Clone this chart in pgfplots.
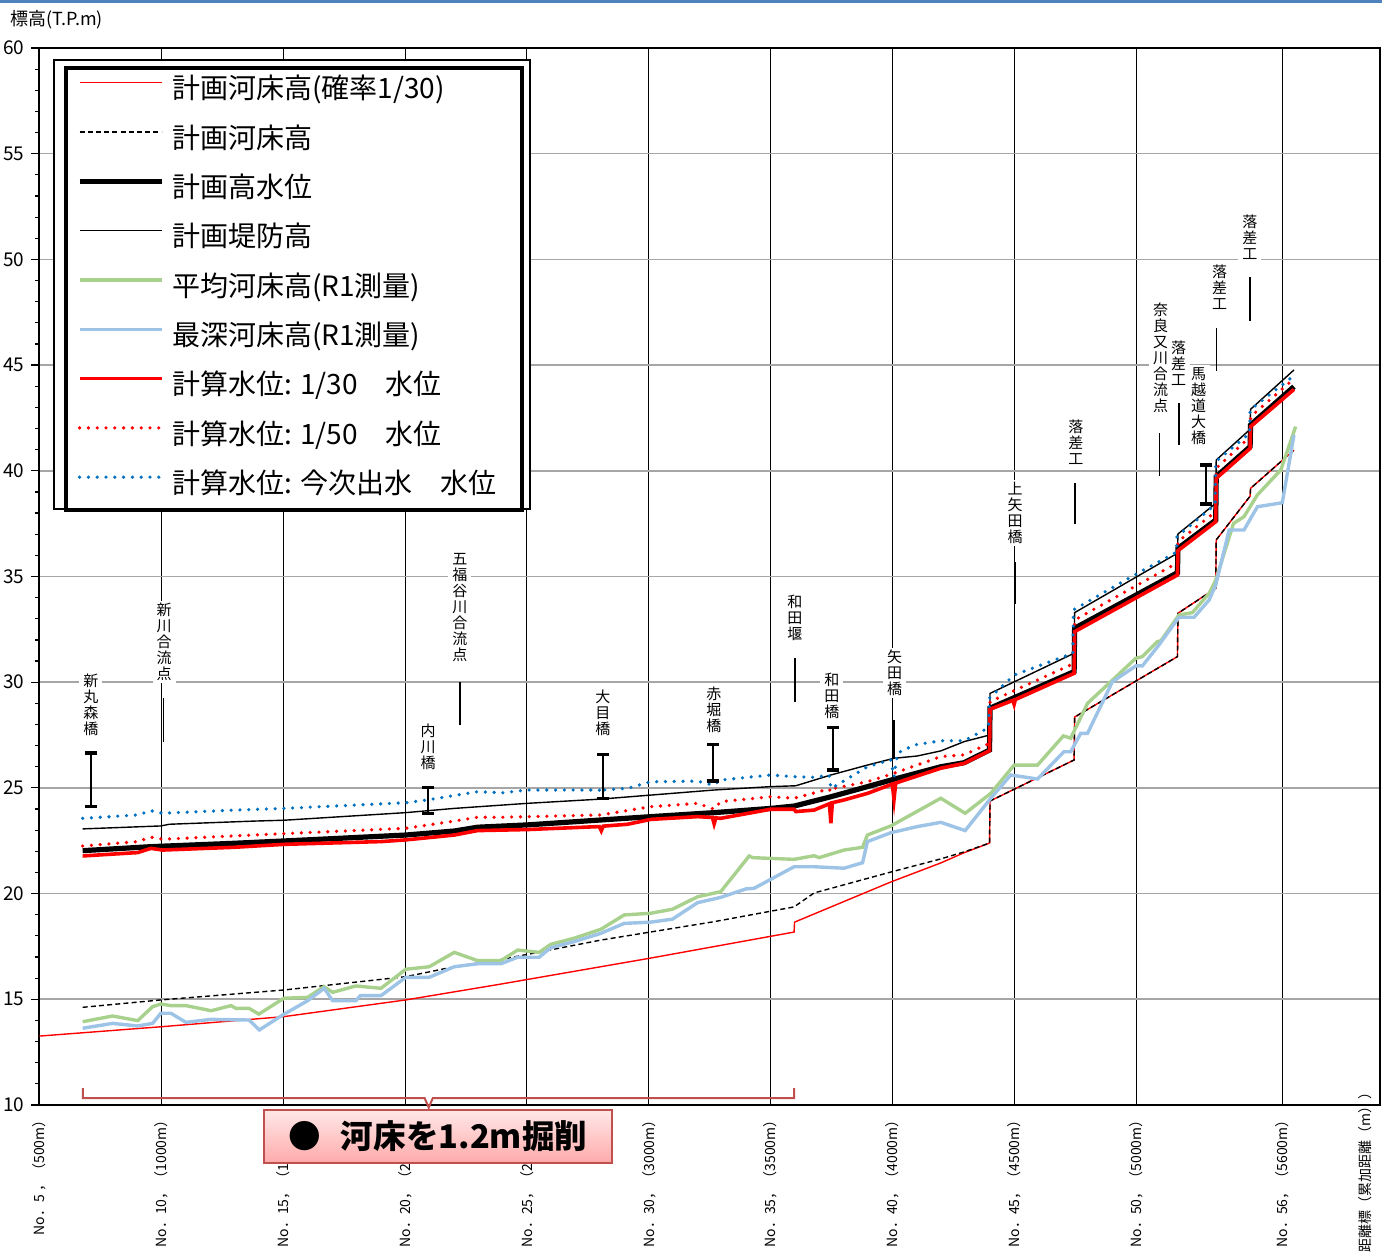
\documentclass[border=0pt]{standalone}
\usepackage{fontspec}
\setmainfont{Noto Sans CJK JP}
\usepackage{pgfplots}
\pgfplotsset{compat=1.18}

\definecolor{bedgreen}{HTML}{A9D18E}
\definecolor{bedblue}{HTML}{9DC3E6}
\definecolor{floodblue}{HTML}{0070C0}
\definecolor{gridgray}{HTML}{A6A6A6}
\definecolor{bracketred}{HTML}{C0504D}
\definecolor{topblue}{HTML}{4F81BD}

\newcommand\vfont{\fontsize{7.5}{8}\selectfont}

\begin{document}
\begin{tikzpicture}
\begin{axis}[
  at={(0pt,0pt)}, anchor=south west,
  scale only axis, width=670.25pt, height=528.5pt,
  xmin=500, xmax=6000, ymin=10, ymax=60,
  clip=false,
  xtick={500,1000,1500,2000,2500,3000,3500,4000,4500,5000,5600},
  xticklabels={{No．5 ，（500m）},{No．10，（1000m）},{No．15，（1500m）},{No．20，（2000m）},{No．25，（2500m）},{No．30，（3000m）},{No．35，（3500m）},{No．40，（4000m）},{No．45，（4500m）},{No．50，（5000m）},{No．56，（5600m）}},
  ytick={10,15,...,60},
  minor y tick num=4,
  ytick pos=left,
  xmajorgrids, ymajorgrids,
  major x grid style={black, line width=0.5pt},
  major y grid style={gridgray, line width=0.8pt},
  axis line style={black, line width=1pt},
  tick align=outside,
  x tick style={draw=none},
  y tick style={black, line width=0.6pt},
  major tick length=4pt, minor tick length=2pt,
  /pgf/number format/assume math mode=true,
  yticklabel style={font=\fontsize{9.5}{9.5}\selectfont},
  xticklabel style={font=\fontsize{7}{7}\selectfont, rotate=90, anchor=east, inner sep=0pt},
  legend cell align=left,
  legend image code/.code={\draw[#1] (0pt,4.6pt) -- (41pt,4.6pt);},
  legend style={
    at={(0.01828,0.98297)}, anchor=north west,
    draw=black, line width=2pt, fill=white,
    inner xsep=5.5pt, inner ysep=5pt,
    /tikz/row sep=10.65pt, /tikz/column sep=4pt,
    font=\fontsize{14}{14}\selectfont,
    nodes={inner sep=0pt, text height=10.5pt, text depth=3.5pt},
  },
]

% outer frame of the legend
\draw[black, line width=0.7pt, fill=white]
  (axis description cs:0.01082,0.98865) rectangle (axis description cs:0.3659,0.5639);

% 計画河床高（確率1/30）
\addplot[red, line width=0.7pt] coordinates {
 (500,13.26) (998,13.70) (1503,14.18) (2003,14.97) (2393,15.72) (3008,16.95)
 (3596,18.18) (3598,18.65) (3993,20.55) (4198,21.45) (4293,21.93) (4398,22.39)
 (4400,24.38) (4745,26.32) (4747,28.35) (5169,31.21) (5171,33.26) (5326,34.44)
 (5328,36.73) (5467,38.80) (5469,39.17) (5647,40.98)};
\addlegendentry{計画河床高(確率1/30)}

% 計画河床高
\addplot[black, line width=0.7pt, dash pattern=on 2.5pt off 1.6pt] coordinates {
 (677,14.62) (998,14.97) (1503,15.44) (2003,16.07) (2202,16.54) (2393,16.88)
 (2803,17.80) (3267,18.67) (3596,19.37) (3678,20.03) (3993,21.02) (4198,21.64)
 (4293,21.97) (4398,22.39)
 (4400,24.38) (4745,26.32) (4747,28.35) (5169,31.21) (5171,33.26) (5326,34.44)
 (5328,36.73) (5467,38.80) (5469,39.17) (5647,40.98)};
\addlegendentry{計画河床高}

% 計画高水位
\addplot[black, line width=2.6pt] coordinates {
 (677,22.03) (957,22.22) (1299,22.38) (1504,22.49) (1668,22.58) (2003,22.77)
 (2202,22.96) (2297,23.14) (2503,23.25) (3008,23.64) (3268,23.83) (3500,24.03)
 (3596,24.14) (3747,24.58) (3897,25.06) (4006,25.41) (4198,26.00) (4293,26.19)
 (4398,26.79) (4400,28.77) (4745,30.50) (4747,32.55) (5169,35.18) (5171,36.33)
 (5326,37.67) (5328,39.72) (5467,41.14) (5469,42.17) (5647,43.98)};
\addlegendentry{計画高水位}

% 計画堤防高
\addplot[black, line width=0.7pt] coordinates {
 (677,23.06) (998,23.20) (1033,23.28) (1381,23.43) (1504,23.47) (2003,23.83)
 (2202,24.03) (2503,24.27) (2803,24.47) (3008,24.66) (3268,24.90) (3500,25.06)
 (3603,25.10) (3747,25.61) (3897,26.08) (4006,26.40) (4102,26.51) (4198,26.75)
 (4294,27.19) (4398,27.50) (4400,29.47) (4745,31.37) (4747,33.29) (5169,36.10)
 (5171,37.01) (5326,38.46) (5328,40.51) (5467,41.96) (5469,42.91) (5647,44.77)};
\addlegendentry{計画堤防高}

% 平均河床高（R1測量）
\addplot[bedgreen, line width=1.7pt] coordinates {
 (677,13.94) (800,14.21) (903,13.99) (964,14.65) (998,14.78) (1039,14.70)
 (1101,14.70) (1204,14.46) (1286,14.70) (1306,14.57) (1360,14.57) (1400,14.30)
 (1503,15.05) (1600,15.09) (1667,15.60) (1703,15.33) (1798,15.63) (1901,15.52)
 (2003,16.42) (2099,16.54) (2202,17.22) (2297,16.83) (2393,16.83) (2462,17.33)
 (2550,17.22) (2598,17.60) (2694,17.89) (2803,18.31) (2899,18.99) (3008,19.07)
 (3097,19.26) (3200,19.85) (3295,20.09) (3412,21.78) (3426,21.70) (3596,21.62)
 (3678,21.79) (3699,21.70) (3801,22.06) (3877,22.19) (3897,22.77) (3993,23.20)
 (4198,24.51) (4298,23.80) (4403,24.74) (4499,26.08) (4595,26.08) (4701,27.46)
 (4731,27.35) (4800,29.00) (4895,30.02) (4998,31.13) (5025,31.21) (5087,31.92)
 (5101,31.96) (5175,33.18) (5230,33.29) (5299,34.20) (5326,34.83) (5399,37.51)
 (5442,37.83) (5497,38.86) (5593,40.04) (5654,42.09)};
\addlegendentry{平均河床高(R1測量)}

% 最深河床高（R1測量）
\addplot[bedblue, line width=1.7pt] coordinates {
 (677,13.63) (800,13.86) (903,13.74) (964,13.86) (998,14.34) (1039,14.34)
 (1101,13.91) (1204,14.05) (1360,14.02) (1402,13.55) (1504,14.30) (1600,14.93)
 (1668,15.52) (1703,14.93) (1798,14.93) (1816,15.17) (1901,15.17) (2003,16.04)
 (2099,16.04) (2202,16.54) (2297,16.68) (2393,16.68) (2462,16.99) (2550,16.99)
 (2598,17.44) (2694,17.73) (2803,18.12) (2899,18.59) (3008,18.65) (3097,18.79)
 (3200,19.57) (3295,19.82) (3398,20.22) (3432,20.25) (3596,21.27) (3678,21.27)
 (3801,21.20) (3877,21.46) (3897,22.46) (3993,22.88) (4102,23.17) (4198,23.37)
 (4298,22.98) (4403,24.51) (4485,25.61) (4595,25.42) (4703,26.71) (4731,26.71)
 (4772,27.58) (4800,27.58) (4902,30.02) (4998,30.77) (5025,30.77) (5093,31.76)
 (5175,33.07) (5237,33.07) (5299,33.89) (5326,34.60) (5381,37.20) (5442,37.20)
 (5497,38.30) (5599,38.49) (5647,41.69)};
\addlegendentry{最深河床高(R1測量)}

% 計算水位 1/30
\addplot[red, line width=1.8pt] coordinates {
 (677,21.78) (903,21.94) (957,22.14) (1005,22.06) (1299,22.19) (1504,22.33)
 (1901,22.46) (2003,22.54) (2202,22.77) (2297,22.98) (2503,23.03) (2797,23.17)
 (2805,22.97) (2813,23.19) (2913,23.28) (3008,23.51) (3200,23.64) (3261,23.60)
 (3268,23.30) (3275,23.58) (3295,23.56) (3500,23.99) (3596,23.99) (3603,23.88)
 (3678,23.95) (3741,24.25) (3747,23.33) (3753,24.30) (3801,24.43) (3897,24.74)
 (3999,25.18) (4006,24.45) (4013,25.23) (4198,25.93) (4294,26.16) (4398,26.76)
 (4400,28.72) (4494,29.14) (4499,28.95) (4504,29.18) (4745,30.42) (4747,32.39)
 (5169,35.07) (5171,36.22) (5326,37.59) (5328,39.64) (5467,41.06) (5469,42.09)
 (5647,43.85)};
\addlegendentry{計算水位: 1/30　水位}

% 計算水位 1/50
\addplot[red, line width=1.8pt, line cap=round, dash pattern=on 0pt off 4.4pt] coordinates {
 (677,22.25) (903,22.46) (957,22.67) (1005,22.57) (1299,22.73) (2003,23.09)
 (2202,23.43) (2297,23.61) (2393,23.61) (2803,23.72) (3008,24.11) (3200,24.27)
 (3268,23.99) (3295,24.35) (3500,24.58) (3596,24.51) (3740,24.95) (3747,24.80)
 (3760,24.98) (3897,25.29) (4006,25.69) (4198,26.48) (4294,26.56) (4398,27.11)
 (4400,29.08) (4745,30.89) (4747,32.94) (5169,35.65) (5171,36.65) (5326,38.07)
 (5328,40.12) (5467,41.61) (5469,42.56) (5647,44.35)};
\addlegendentry{計算水位: 1/50　水位}

% 計算水位 今次出水
\addplot[floodblue, line width=1.8pt, line cap=round, dash pattern=on 0pt off 4.4pt] coordinates {
 (677,23.56) (903,23.72) (957,23.92) (1005,23.80) (1299,23.95) (1504,24.03)
 (2003,24.30) (2092,24.43) (2297,24.82) (2400,24.77) (2503,24.90) (2797,24.90)
 (2805,24.75) (2813,24.90) (2913,24.98) (3008,25.29) (3200,25.32) (3264,25.13)
 (3295,25.37) (3500,25.61) (3596,25.53) (3678,25.50) (3740,25.60) (3747,24.98)
 (3760,25.05) (3897,26.00) (3993,26.32) (4006,25.53) (4020,26.64) (4089,27.03)
 (4198,27.23) (4294,27.23) (4394,27.85) (4398,29.25) (4499,30.34) (4740,31.37)
 (4742,33.42) (5005,35.15) (5165,36.15) (5167,36.88) (5324,38.40) (5326,40.43)
 (5465,41.77) (5467,42.88) (5647,44.50)};
\addlegendentry{計算水位: 今次出水　水位\hspace*{7.5pt}\mbox{}}

% bridge girders
\addplot[black, line width=1pt, mark=-, mark size=3pt, mark options={line width=1.6pt}, forget plot]
  coordinates {(711,24.11) (711,26.65)};
\addplot[black, line width=1pt, mark=-, mark size=3pt, mark options={line width=1.6pt}, forget plot]
  coordinates {(2092,23.80) (2092,25.01)};
\addplot[black, line width=1pt, mark=-, mark size=3pt, mark options={line width=1.6pt}, forget plot]
  coordinates {(2810,24.51) (2810,26.59)};
\addplot[black, line width=1pt, mark=-, mark size=3pt, mark options={line width=1.6pt}, forget plot]
  coordinates {(3264,25.33) (3264,27.06)};
\addplot[black, line width=1pt, mark=-, mark size=3pt, mark options={line width=1.6pt}, forget plot]
  coordinates {(3754,25.85) (3754,27.85)};
\addplot[black, line width=1pt, mark=-, mark size=3pt, mark options={line width=1.6pt}, forget plot]
  coordinates {(5288,38.43) (5288,40.27)};

% leader lines
\addplot[black, line width=0.8pt, forget plot] coordinates {(1009,27.19) (1009,29.24)};
\addplot[black, line width=0.8pt, forget plot] coordinates {(2225,27.97) (2225,30.02)};
\addplot[black, line width=0.8pt, forget plot] coordinates {(3600,29.08) (3600,31.13)};
\addplot[black, line width=1.2pt, forget plot] coordinates {(4006,26.40) (4006,28.21)};
\addplot[black, line width=1.2pt, forget plot] coordinates {(4503,33.70) (4503,35.70)};
\addplot[black, line width=0.8pt, forget plot] coordinates {(4749,37.48) (4749,39.41)};
\addplot[black, line width=0.8pt, forget plot] coordinates {(5096,39.77) (5096,41.80)};
\addplot[black, line width=0.8pt, forget plot] coordinates {(5176,41.22) (5176,43.22)};
\addplot[black, line width=0.8pt, forget plot] coordinates {(5329,44.74) (5329,46.74)};
\addplot[black, line width=0.8pt, forget plot] coordinates {(5466,47.10) (5466,49.15)};

% vertical place names
\begin{scope}[every node/.style={fill=white, inner xsep=2pt, inner ysep=1pt, align=center, font=\vfont}]
\node at (axis cs:711,28.92) {新\\丸\\森\\橋};
\node at (axis cs:1011,31.90) {新\\川\\合\\流\\点};
\node at (axis cs:2094,26.93) {内\\川\\橋};
\node at (axis cs:2225,33.51) {五\\福\\谷\\川\\合\\流\\点};
\node at (axis cs:2812,28.54) {大\\目\\橋};
\node at (axis cs:3267,28.69) {赤\\堀\\橋};
\node at (axis cs:3599,33.04) {和\\田\\堰};
\node at (axis cs:3751,29.35) {和\\田\\橋};
\node at (axis cs:4009,30.43) {矢\\田\\橋};
\node at (axis cs:4503,38.00) {上\\矢\\田\\橋};
\node at (axis cs:4752,41.36) {落\\差\\工};
\node at (axis cs:5100,45.34) {奈\\良\\又\\川\\合\\流\\点};
\node at (axis cs:5174,45.10) {落\\差\\工};
\node at (axis cs:5256,43.07) {馬\\越\\道\\大\\橋};
\node at (axis cs:5342,48.70) {落\\差\\工};
\node at (axis cs:5466,51.06) {落\\差\\工};
\end{scope}

% excavation range brace
\draw[bracketred, line width=1pt]
  (axis cs:678,10.80) -- (axis cs:678,10.33) -- (axis cs:2080,10.33)
  -- (axis cs:2097,9.88) -- (axis cs:2114,10.33) -- (axis cs:3596,10.33) -- (axis cs:3596,10.80);
\end{axis}

% excavation note
\node[draw=bracketred, line width=1pt, top color={rgb,255:red,255;green,232;blue,232},
  bottom color={rgb,255:red,255;green,170;blue,170},
  minimum width=174pt, minimum height=26.5pt, inner sep=0pt,
  font=\fontsize{16.3}{16.3}\selectfont\bfseries] at (199.25pt,-15.75pt) {●\hspace{0.6em}河床を1.2m掘削};

% axis titles
\node[anchor=west, inner sep=0pt, font=\fontsize{9}{9}\selectfont] at (-14.75pt,542.5pt) {標高(T.P.m)};
\node[anchor=west, rotate=90, inner sep=0pt, font=\fontsize{7}{7}\selectfont] at (662.75pt,-74pt) {距離標（累加距離（m））};

% header rule
\fill[topblue] (-19.75pt,551pt) rectangle (671.25pt,552.5pt);

\pgfresetboundingbox
\path[use as bounding box] (-19.75pt,-75.5pt) rectangle (671.25pt,552.5pt);
\end{tikzpicture}
\end{document}
